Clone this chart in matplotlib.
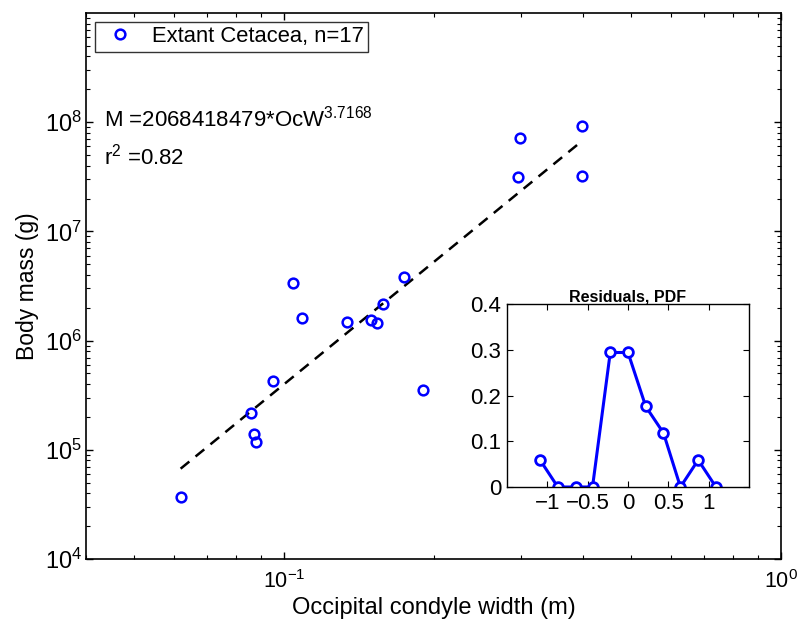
import numpy as np
import matplotlib
matplotlib.use("Agg")
import matplotlib.pyplot as plt

plt.rcParams['font.family'] = ['Liberation Sans', 'DejaVu Sans']
plt.rcParams['mathtext.fontset'] = 'custom'
plt.rcParams['mathtext.rm'] = 'Liberation Sans'
plt.rcParams['mathtext.it'] = 'Liberation Sans:italic'
plt.rcParams['mathtext.default'] = 'regular'

# Main scatter data (Occipital condyle width in m, body mass in g)
ocw = [0.1042, 0.1089, 0.1338, 0.1495, 0.1537, 0.1585, 0.1747, 0.0950, 0.0859,
       0.0870, 0.0879, 0.1906, 0.0620, 0.2990, 0.2954, 0.3985, 0.3985]
mass = [3.37e6, 1.61e6, 1.47e6, 1.55e6, 1.45e6, 2.16e6, 3.84e6, 4.23e5, 2.19e5,
        1.385e5, 1.18e5, 3.52e5, 3.73e4, 7.14e7, 3.13e7, 9.25e7, 3.21e7]
coef_a = 2068418479
coef_b = 3.7168
r2 = 0.82

# Inset: residual PDF
res_x = [-1.09, -0.87, -0.65, -0.44, -0.22, 0.0, 0.22, 0.44, 0.65, 0.87, 1.09]
res_pdf = [0.059, 0.0, 0.0, 0.0, 0.294, 0.294, 0.176, 0.118, 0.0, 0.059, 0.0]

fig = plt.figure(figsize=(8.01, 6.30), dpi=100)
ax = fig.add_axes([86/801, 1-559/630, (781-86)/801, (559-13)/630])

ax.plot(ocw, mass, 'o', mfc='none', mec='#0000ff', ms=7, mew=1.8,
        label='Extant Cetacea, n=17', zorder=3)
xf = np.array([min(ocw), max(ocw)])
ax.plot(xf, coef_a * xf**coef_b, color='black', lw=1.8, ls=(0, (4.5, 3.2)), zorder=2)

ax.set_xscale('log')
ax.set_yscale('log')
ax.set_xlim(0.04, 1)
ax.set_ylim(1e4, 1e9)
ax.set_yticks([1e4, 1e5, 1e6, 1e7, 1e8])
ax.set_xticks([1e-1, 1e0])
ax.tick_params(which='both', direction='in', top=True, right=True)
ax.tick_params(axis='y', labelsize=17, pad=3)
ax.tick_params(axis='x', labelsize=15.5, pad=8)
ax.tick_params(which='major', length=5, width=1)
ax.tick_params(which='minor', length=3, width=0.8)
for s in ax.spines.values():
    s.set_linewidth(1.2)
ax.set_xlabel('Occipital condyle width (m)', fontsize=17, labelpad=3)
ax.set_ylabel('Body mass (g)', fontsize=16.5, labelpad=4)

leg = ax.legend(loc='upper left', fontsize=15.8, frameon=True, fancybox=False,
                edgecolor='black', borderaxespad=0.4, handletextpad=0.5,
                borderpad=0.2, handlelength=1.9)
leg.get_frame().set_linewidth(1.0)

ax.text(0.026, 0.792, r'M =%d*OcW$^{%.4f}$' % (coef_a, coef_b), transform=ax.transAxes,
        fontsize=16, va='baseline')
ax.text(0.026, 0.722, r'r$^{2}$ =%.2f' % r2, transform=ax.transAxes,
        fontsize=16, va='baseline')

# Inset
ins = fig.add_axes([507/801, 1-487/630, (749-507)/801, (487-304)/630])
ins.plot(res_x, res_pdf, '-o', color='#0000ff', lw=2.2, mfc='white', mec='#0000ff',
         ms=7, mew=2)
ins.set_xlim(-1.5, 1.5)
ins.set_ylim(0, 0.4)
ins.set_xticks([-1, -0.5, 0, 0.5, 1])
ins.set_xticklabels(['\u22121', '\u22120.5', '0', '0.5', '1'])
ins.set_yticks([0, 0.1, 0.2, 0.3, 0.4])
ins.set_yticklabels(['0', '0.1', '0.2', '0.3', '0.4'])
ins.tick_params(direction='in', top=True, right=True, labelsize=16, length=4, pad=4)
for s in ins.spines.values():
    s.set_linewidth(1.0)
ins.set_title('Residuals, PDF', fontsize=11.5, fontweight='bold', pad=2)

fig.savefig('out.png', dpi=100)
